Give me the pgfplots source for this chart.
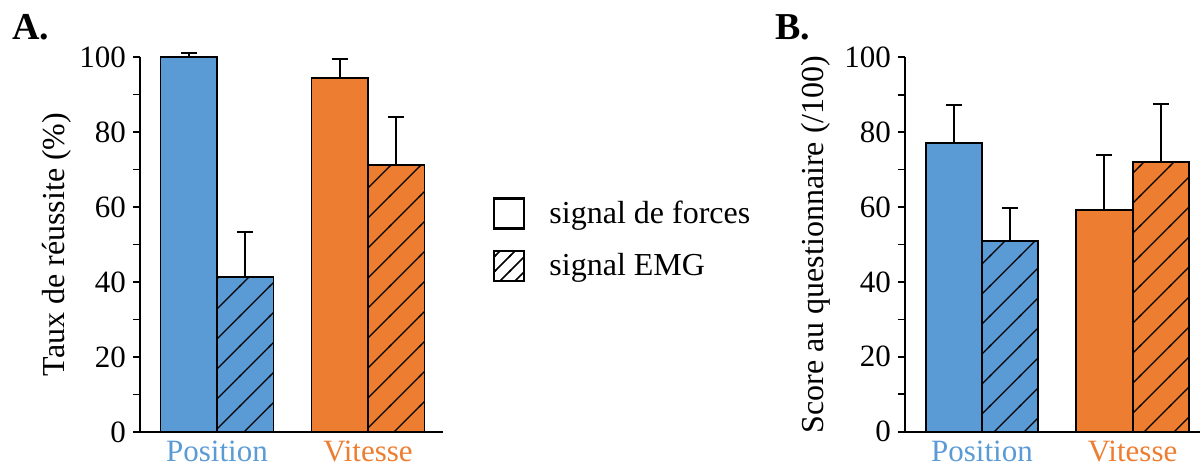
\documentclass[border=0pt]{standalone}
\usepackage{fontspec}
\setmainfont{Liberation Serif}
\usepackage{pgfplots}
\pgfplotsset{compat=1.18}
\usetikzlibrary{patterns}
\definecolor{pblue}{RGB}{91,155,213}
\definecolor{porange}{RGB}{237,125,49}
\pgfdeclarepatternformonly{hatch}{\pgfqpoint{-1pt}{-1pt}}{\pgfqpoint{16pt}{16pt}}{\pgfqpoint{15pt}{15pt}}{%
  \pgfsetlinewidth{0.55pt}\pgfpathmoveto{\pgfqpoint{-0.5pt}{-0.5pt}}\pgfpathlineto{\pgfqpoint{15.5pt}{15.5pt}}\pgfusepath{stroke}}
\pgfdeclarepatternformonly{hatchsmall}{\pgfqpoint{-1pt}{-1pt}}{\pgfqpoint{8.5pt}{8.5pt}}{\pgfqpoint{7.5pt}{7.5pt}}{%
  \pgfsetlinewidth{0.8pt}\pgfpathmoveto{\pgfqpoint{-0.5pt}{-0.5pt}}\pgfpathlineto{\pgfqpoint{8pt}{8pt}}\pgfusepath{stroke}}
\pgfplotsset{
  panel/.style={
    scale only axis, clip=false,
    axis x line=bottom, axis y line=left,
    axis line style={line width=1.1pt,-},
    ymin=0, ymax=100, ytick={0,20,...,100}, minor ytick={10,30,50,70,90},
    tick align=outside, major tick length=3.5pt, minor tick length=3.5pt,
    ytick style={line width=0.85pt,black},
    every minor tick/.append style={line width=0.85pt,black},
    xtick={0,1}, xtick style={draw=none},
    xticklabels={\textcolor{pblue}{Position},\textcolor{porange}{Vitesse}},
    /pgf/number format/assume math mode=true,
    yticklabel style={font=\fontsize{15.5}{18}\selectfont},
    xticklabel style={font=\fontsize{15.5}{18}\selectfont, yshift=2.5pt},
    ylabel style={font=\fontsize{16}{19}\selectfont, anchor=center},
  },
  mybar/.style={ybar, bar width=0.374, bar shift=0, draw=black, line width=0.9pt,
    /pgfplots/error bars/y dir=plus, /pgfplots/error bars/y explicit,
    /pgfplots/error bars/error bar style={line width=1pt,black},
    /pgfplots/error bars/error mark options={line width=1pt,black,mark size=4pt,rotate=90}},
  hatched/.style={postaction={pattern=hatch}},
}
\begin{document}
\begin{tikzpicture}
\useasboundingbox (0,0) rectangle (600pt,233pt);
\begin{axis}[panel, at={(70pt,17pt)}, anchor=south west,
  width=151.5pt, height=187.5pt, xmin=-0.51, xmax=1.497,
  ylabel={Taux de réussite (\%)},
  ylabel style={at={(axis description cs:-0.275,0.5)}},
  legend style={at={(axis description cs:1.164,0.627)}, anchor=north west,
    draw=none, fill=none, font=\fontsize{16}{19}\selectfont,
    row sep=10pt, inner sep=0pt, nodes={inner sep=0pt},
    /tikz/every odd column/.append style={column sep=12pt}},
  legend cell align=left]
\addlegendimage{legend image code/.code={\draw[line width=1.2pt,fill=white](0pt,-7.5pt) rectangle (15pt,7.5pt);}}
\addlegendentry{signal de forces}
\addlegendimage{legend image code/.code={\draw[line width=1.2pt,fill=white,postaction={pattern=hatchsmall}](0pt,-7.5pt) rectangle (15pt,7.5pt);}}
\addlegendentry{signal EMG}
\addplot[mybar, fill=pblue, forget plot] coordinates {(-0.187,100) +- (0,1.0)};
\addplot[mybar, fill=pblue, hatched, forget plot] coordinates {(0.187,41.4) +- (0,12.0)};
\addplot[mybar, fill=porange, forget plot] coordinates {(0.813,94.4) +- (0,5.1)};
\addplot[mybar, fill=porange, hatched, forget plot] coordinates {(1.187,71.1) +- (0,13.0)};
\end{axis}
\begin{axis}[panel, at={(452.5pt,17.15pt)}, anchor=south west,
  width=147.5pt, height=187.2pt, xmin=-0.511, xmax=1.447,
  ylabel={Score au questionnaire (/100)},
  ylabel style={at={(axis description cs:-0.302,0.5)}}]
\addplot[mybar, fill=pblue] coordinates {(-0.187,77.2) +- (0,10.1)};
\addplot[mybar, fill=pblue, hatched] coordinates {(0.187,50.9) +- (0,8.9)};
\addplot[mybar, fill=porange] coordinates {(0.813,59.2) +- (0,14.6)};
\addplot[mybar, fill=porange, hatched] coordinates {(1.187,72.1) +- (0,15.3)};
\end{axis}
\node[font=\fontsize{19}{22}\selectfont\bfseries, anchor=base west, inner sep=0pt] at (6pt,213pt) {A.};
\node[font=\fontsize{19}{22}\selectfont\bfseries, anchor=base west, inner sep=0pt] at (387.5pt,213pt) {B.};
\end{tikzpicture}
\end{document}
